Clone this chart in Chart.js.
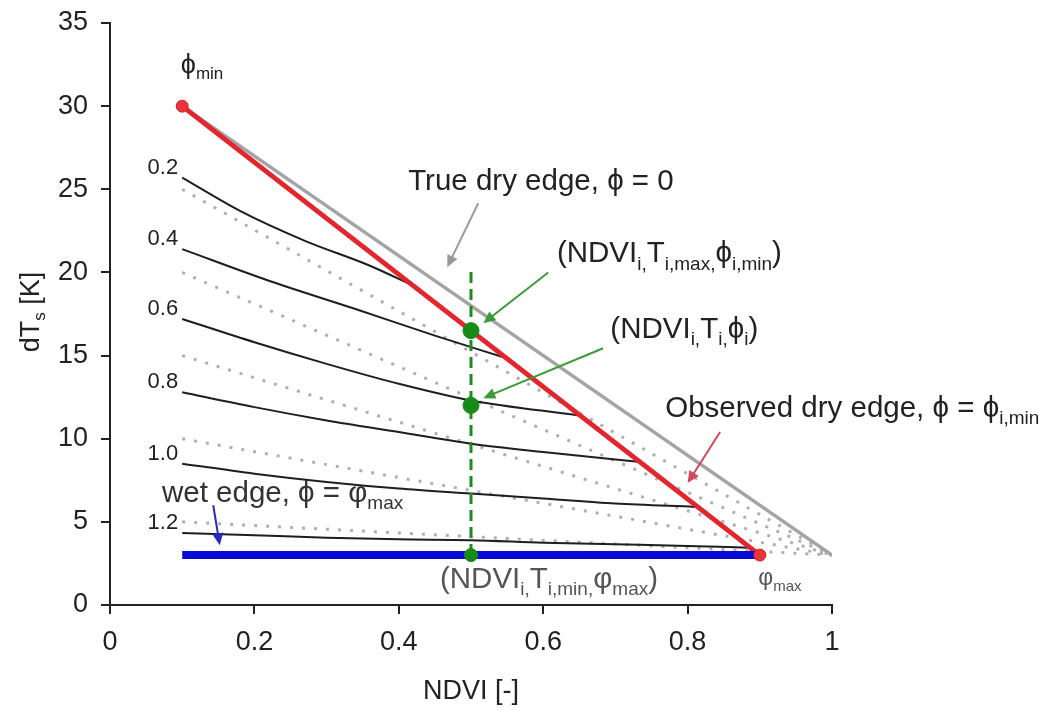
<!DOCTYPE html>
<html><head><meta charset="utf-8">
<script src="https://cdn.jsdelivr.net/npm/chart.js@4.4.1/dist/chart.umd.min.js"></script>
<style>html,body{margin:0;padding:0;background:#fff;} #c{display:block;}</style>
</head><body>
<canvas id="c" width="1057" height="711"></canvas>
<script>
// ---------- data ----------
const xTickValues = [0, 0.2, 0.4, 0.6, 0.8, 1];
const yTickValues = [0, 5, 10, 15, 20, 25, 30, 35];
const phiLabels = ['0.2', '0.4', '0.6', '0.8', '1.0', '1.2'];

const curve02X = [0.1, 0.18, 0.27, 0.36, 0.42];
const curve02Y = [25.7, 23.7, 21.9, 20.4, 19.2];
const curve04X = [0.1, 0.22, 0.34, 0.45, 0.545];
const curve04Y = [21.4, 19.5, 17.8, 16.2, 14.9];
const curve06X = [0.1, 0.2, 0.3, 0.4, 0.5, 0.65];
const curve06Y = [17.2, 15.8, 14.5, 13.3, 12.3, 11.4];
const curve08X = [0.1, 0.2, 0.3, 0.4, 0.5, 0.6, 0.735];
const curve08Y = [12.8, 11.9, 11.1, 10.4, 9.7, 9.2, 8.6];
const curve10X = [0.1, 0.2, 0.3, 0.4, 0.5, 0.6, 0.7, 0.81];
const curve10Y = [8.5, 7.9, 7.4, 7.0, 6.7, 6.4, 6.1, 5.9];
const curve12X = [0.1, 0.2, 0.3, 0.4, 0.5, 0.6, 0.7, 0.8, 0.885];
const curve12Y = [4.33, 4.2, 4.05, 3.95, 3.9, 3.75, 3.65, 3.55, 3.45];

const dottedStartX = 0.1;
const dottedStartY = [25, 20, 15, 10, 5];
const dottedEndX = 1.0;
const dottedEndY = 3;

const trueDryX = [0.1, 1.0];
const trueDryY = [30, 3];
const obsDryX = [0.1, 0.9];
const obsDryY = [30, 3];
const wetX = [0.1, 0.9];
const wetY = [3, 3];
const ndviI = 0.5;
const pixelLineY = [3, 20.1];
const pixelPointsY = [16.5, 12, 3];
const endPointsX = [0.1, 0.9];
const endPointsY = [30, 3];

// ---------- build ----------
const FAM = '"Liberation Sans", Arial, Helvetica, sans-serif';
Chart.defaults.font.family = FAM;
const mk = (xs, ys) => xs.map((x, i) => ({x: x, y: ys[i]}));
const curves = [[curve02X, curve02Y], [curve04X, curve04Y], [curve06X, curve06Y],
                [curve08X, curve08Y], [curve10X, curve10Y], [curve12X, curve12Y]];

const datasets = [];
dottedStartY.forEach(y0 => datasets.push({
  data: [{x: dottedStartX, y: y0}, {x: dottedEndX, y: dottedEndY}],
  showLine: true, borderColor: '#b0b0b0', borderWidth: 3, borderDash: [3, 9],
  pointRadius: 0, order: 20
}));
curves.forEach(c => datasets.push({
  data: mk(c[0], c[1]), showLine: true, borderColor: '#1e1e1e', borderWidth: 2,
  cubicInterpolationMode: 'monotone', pointRadius: 0, order: 15
}));
datasets.push({data: mk(trueDryX, trueDryY), showLine: true, borderColor: '#a4a4a4',
  borderWidth: 3.5, pointRadius: 0, order: 12});
datasets.push({data: mk(obsDryX, obsDryY), showLine: true, borderColor: '#e3262e',
  borderWidth: 5, pointRadius: 0, order: 10});
datasets.push({data: mk(wetX, wetY), showLine: true, borderColor: '#0a0ad6',
  borderWidth: 8, pointRadius: 0, order: 9});
datasets.push({data: pixelLineY.map(y => ({x: ndviI, y: y})), showLine: true,
  borderColor: '#1f8a1f', borderWidth: 3, borderDash: [11, 6], pointRadius: 0, order: 8});
datasets.push({data: pixelPointsY.map(y => ({x: ndviI, y: y})), showLine: false,
  pointRadius: [8, 8, 6.5], backgroundColor: '#178a17', borderColor: '#178a17',
  borderWidth: 1, order: 2});
datasets.push({data: mk(endPointsX, endPointsY), showLine: false, pointRadius: 6,
  backgroundColor: '#e8343a', borderColor: '#d81f26', borderWidth: 1, order: 1});

function drawRich(ctx, x, y, parts, size, color, align) {
  const subSize = Math.round(size * 0.64);
  let w = 0;
  parts.forEach(p => { ctx.font = (p[1] ? subSize : size) + 'px ' + FAM; w += ctx.measureText(p[0]).width; });
  let cx = align === 'center' ? x - w / 2 : (align === 'right' ? x - w : x);
  ctx.fillStyle = color; ctx.textBaseline = 'alphabetic'; ctx.textAlign = 'left';
  parts.forEach(p => {
    ctx.font = (p[1] ? subSize : size) + 'px ' + FAM;
    ctx.fillText(p[0], cx, y + (p[1] ? size * 0.24 : 0));
    cx += ctx.measureText(p[0]).width;
  });
}
function arrow(ctx, x1, y1, x2, y2, color, lw) {
  const a = Math.atan2(y2 - y1, x2 - x1), L = 12, H = 5.5;
  ctx.save();
  ctx.strokeStyle = color; ctx.fillStyle = color; ctx.lineWidth = lw;
  ctx.beginPath(); ctx.moveTo(x1, y1);
  ctx.lineTo(x2 - Math.cos(a) * L * 0.8, y2 - Math.sin(a) * L * 0.8); ctx.stroke();
  ctx.beginPath(); ctx.moveTo(x2, y2);
  ctx.lineTo(x2 - Math.cos(a) * L - Math.sin(a) * H, y2 - Math.sin(a) * L + Math.cos(a) * H);
  ctx.lineTo(x2 - Math.cos(a) * L + Math.sin(a) * H, y2 - Math.sin(a) * L - Math.cos(a) * H);
  ctx.closePath(); ctx.fill();
  ctx.restore();
}

const PHI = 'ϕ';
const annotations = {
  id: 'annotations',
  afterDatasetsDraw(chart) {
    const ctx = chart.ctx, xs = chart.scales.x, ys = chart.scales.y;
    const X = v => xs.getPixelForValue(v), Y = v => ys.getPixelForValue(v);
    ctx.save();
    // curve labels
    curves.forEach((c, i) => {
      ctx.font = '22px ' + FAM; ctx.fillStyle = '#222'; ctx.textAlign = 'right';
      ctx.textBaseline = 'alphabetic';
      ctx.fillText(phiLabels[i], X(c[0][0]) - 4, Y(c[1][0]) - 4);
    });
    const T = '#222', G = '#555', S = 29.5;
    drawRich(ctx, X(0.098), Y(32.0), [[PHI, 0], ['min', 1]], 27, T, 'left');
    drawRich(ctx, X(0.413), Y(24.94), [['True dry edge, ' + PHI + ' = 0', 0]], S, T, 'left');
    drawRich(ctx, X(0.619), Y(20.6), [['(NDVI', 0], ['i,', 1], ['T', 0], ['i,max,', 1], [PHI, 0], ['i,min', 1], [')', 0]], S, T, 'left');
    drawRich(ctx, X(0.693), Y(16.05), [['(NDVI', 0], ['i,', 1], ['T', 0], ['i,', 1], [PHI, 0], ['i', 1], [')', 0]], S, T, 'left');
    drawRich(ctx, X(0.769), Y(11.3), [['Observed dry edge, ' + PHI + ' = ' + PHI, 0], ['i,min', 1]], S, T, 'left');
    drawRich(ctx, X(0.072), Y(6.19), [['wet edge, ' + PHI + ' = φ', 0], ['max', 1]], S, '#333', 'left');
    drawRich(ctx, X(0.457), Y(1.02), [['(NDVI', 0], ['i,', 1], ['T', 0], ['i,min,', 1], ['φ', 0], ['max', 1], [')', 0]], S, G, 'left');
    drawRich(ctx, X(0.898), Y(1.2), [['φ', 0], ['max', 1]], 23, G, 'left');
    // arrows
    arrow(ctx, X(0.51), Y(24.16), X(0.467), Y(20.31), '#9a9a9a', 2);
    arrow(ctx, X(0.607), Y(20.0), X(0.517), Y(16.95), '#3c9a3c', 2);
    arrow(ctx, X(0.683), Y(15.44), X(0.517), Y(12.44), '#3c9a3c', 2);
    arrow(ctx, X(0.845), Y(10.4), X(0.80), Y(7.33), '#d04a5a', 2);
    arrow(ctx, X(0.143), Y(6.0), X(0.152), Y(3.6), '#2a2ab8', 2);
    // y title with subscript (rotated)
    ctx.translate(39, 312);
    ctx.rotate(-Math.PI / 2);
    drawRich(ctx, 0, 0, [['dT', 0], ['s', 1], [' [K]', 0]], 27, T, 'center');
    ctx.restore();
  }
};

new Chart(document.getElementById('c'), {
  type: 'scatter',
  data: {datasets: datasets},
  options: {
    responsive: false, animation: false, devicePixelRatio: 1,
    layout: {padding: {left: 0, top: 23, right: 225, bottom: 0}},
    plugins: {legend: {display: false}, tooltip: {enabled: false}},
    scales: {
      x: {
        type: 'linear', min: 0, max: 1,
        afterBuildTicks: s => { s.ticks = xTickValues.map(v => ({value: v})); },
        afterFit: s => { s.height = 106; s.paddingLeft = 0; s.paddingRight = 0; },
        ticks: {font: {size: 27}, color: '#222', padding: 12,
          callback: v => String(+Number(v).toFixed(1))},
        grid: {drawOnChartArea: false, drawTicks: true, tickLength: 9, color: '#222', lineWidth: 2},
        border: {display: true, color: '#222', width: 2},
        title: {display: true, text: 'NDVI [-]', font: {size: 27}, color: '#222', padding: {top: 0, bottom: 3}}
      },
      y: {
        type: 'linear', min: 0, max: 35,
        afterBuildTicks: s => { s.ticks = yTickValues.map(v => ({value: v})); },
        afterFit: s => { s.width = 110; s.paddingTop = 0; s.paddingBottom = 0; },
        ticks: {font: {size: 27}, color: '#222', padding: 13,
          callback: v => String(v)},
        grid: {drawOnChartArea: false, drawTicks: true, tickLength: 9, color: '#222', lineWidth: 2},
        border: {display: true, color: '#222', width: 2}
      }
    }
  },
  plugins: [annotations]
});
</script>
</body></html>
